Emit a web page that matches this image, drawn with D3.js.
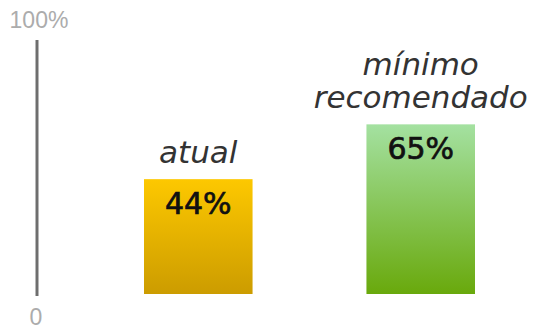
<!DOCTYPE html>
<html>
<head>
<meta charset="utf-8">
<script src="https://cdn.jsdelivr.net/npm/d3@7"></script>
<style>
  body { margin: 0; background: #fff; }
  text { font-family: "DejaVu Sans", Verdana, sans-serif; }
</style>
</head>
<body>
<div id="chart"></div>
<script>
// data
var categories = ["atual", "mínimo recomendado"];
var labelLines = [["atual"], ["mínimo", "recomendado"]];
var values = [44, 65];
var tickLabels = ["0", "100%"];
var gradients = [["#fdc800", "#cc9c00"], ["#a4e1a1", "#69a90c"]];

var svgWidth = 535, svgHeight = 329;

var svg = d3.select("#chart").append("svg")
    .attr("width", svgWidth)
    .attr("height", svgHeight);

// scales
var x = d3.scaleBand()
    .domain(categories)
    .range([144, 475])
    .paddingInner(0.512);

var y = d3.scaleLinear()
    .domain([0, 100])
    .range([294, 33]);

// gradients
var defs = svg.append("defs");
categories.forEach(function(c, i) {
  var g = defs.append("linearGradient")
      .attr("id", "grad" + i)
      .attr("x1", 0).attr("y1", 0).attr("x2", 0).attr("y2", 1);
  g.append("stop").attr("offset", "0%").attr("stop-color", gradients[i][0]);
  g.append("stop").attr("offset", "100%").attr("stop-color", gradients[i][1]);
});

// axis line
svg.append("line")
    .attr("x1", 37).attr("x2", 37)
    .attr("y1", y(100) + 7).attr("y2", y(0) + 2)
    .attr("stroke", "#6e6e6e")
    .attr("stroke-width", 3);

svg.selectAll(".tick-label")
  .data(tickLabels)
  .enter().append("text")
    .attr("class", "tick-label")
    .attr("x", (d, i) => i === 0 ? 36 : 39)
    .attr("y", (d, i) => i === 0 ? y(0) + 31 : y(100) - 5)
    .attr("text-anchor", "middle")
    .style("font-family", "'Liberation Sans', Arial, sans-serif")
    .attr("font-size", 23)
    .attr("fill", "#acacac")
    .text(d => d);

// bars
svg.selectAll(".bar")
  .data(values)
  .enter().append("rect")
    .attr("class", "bar")
    .attr("x", (d, i) => x(categories[i]))
    .attr("y", d => y(d))
    .attr("width", x.bandwidth())
    .attr("height", d => y(0) - y(d))
    .attr("fill", (d, i) => "url(#grad" + i + ")");

// value labels
svg.selectAll(".value")
  .data(values)
  .enter().append("text")
    .attr("class", "value")
    .attr("x", (d, i) => x(categories[i]) + x.bandwidth() / 2)
    .attr("y", d => y(d) + 35)
    .attr("text-anchor", "middle")
    .attr("font-size", 30)
    .attr("fill", "#111")
    .attr("stroke", "#111")
    .attr("stroke-width", 0.7)
    .text(d => d + "%");

// category labels
labelLines.forEach(function(lines, i) {
  var cx = x(categories[i]) + x.bandwidth() / 2;
  var base = y(values[i]) - 16;
  lines.forEach(function(line, j) {
    svg.append("text")
        .attr("x", cx)
        .attr("y", base - (lines.length - 1 - j) * 33)
        .attr("text-anchor", "middle")
        .attr("font-size", 31)
        .attr("font-style", "italic")
        .attr("fill", "#333")
        .text(line);
  });
});
</script>
</body>
</html>
